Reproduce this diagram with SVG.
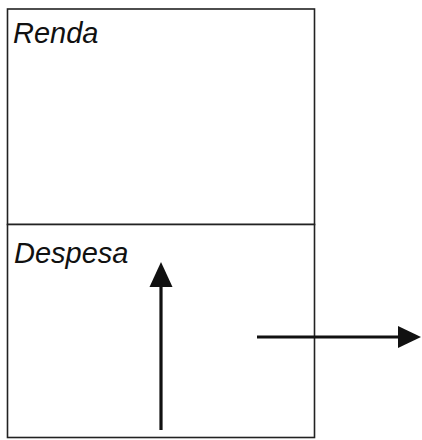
<svg xmlns="http://www.w3.org/2000/svg" width="422" height="440" viewBox="0 0 422 440">
<style>
.box{fill:#fff;stroke:#222;stroke-width:1.6}
.lbl{font-family:"Liberation Sans",Arial,sans-serif;font-style:italic;font-size:29px;fill:#111}
.arr{stroke:#111;stroke-width:3.2;fill:none}
.head{fill:#111}
</style>
<rect width="422" height="440" fill="#fff"/>
<g id="renda">
<rect class="box" x="7.5" y="9" width="307" height="215.5"/>
<text class="lbl" x="13" y="43">Renda</text>
</g>
<g id="despesa">
<rect class="box" x="7.5" y="224.5" width="307" height="213"/>
<text class="lbl" x="14" y="263">Despesa</text>
</g>
<g id="connectors">
<line class="arr" x1="161" y1="430" x2="161" y2="284"/>
<polygon class="head" points="161,262 149.5,287 172.5,287"/>
<line class="arr" x1="257" y1="337" x2="402" y2="337"/>
<polygon class="head" points="421,337 398,326 398,348"/>
</g>
</svg>
